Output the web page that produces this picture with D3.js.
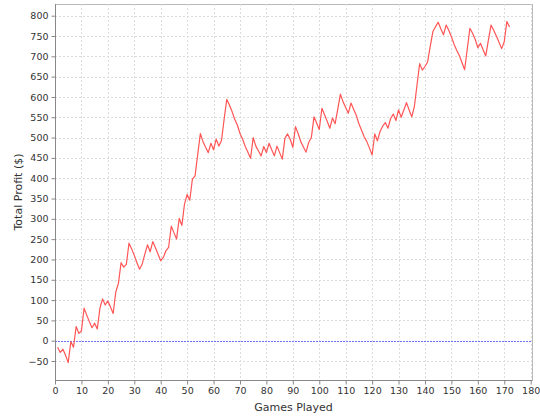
<!DOCTYPE html>
<html>
<head>
<meta charset="utf-8">
<script src="https://cdn.jsdelivr.net/npm/d3@7/dist/d3.min.js"></script>
<style>
  html, body { margin: 0; padding: 0; background: #ffffff; }
  svg { display: block; }
  text { font-family: "DejaVu Sans", sans-serif; fill: #333; }
</style>
</head>
<body>
<svg id="chart" width="540" height="420"></svg>
<script>
// ---- data ----
const profit = [
  -16, -29, -21, -36, -54, -2, -16, 35, 18, 24,
  80, 63, 47, 32, 43, 29, 80, 103, 88, 98,
  83, 67, 120, 141, 192, 181, 188, 240, 226, 210,
  192, 176, 189, 213, 236, 219, 244, 229, 213, 197,
  205, 222, 230, 282, 266, 250, 301, 284, 336, 360,
  346, 398, 406, 458, 510, 490, 476, 463, 486, 470,
  496, 479, 493, 545, 594, 580, 564, 545, 531, 510,
  496, 478, 464, 449, 500, 479, 467, 455, 478, 463,
  486, 470, 455, 479, 463, 447, 498, 509, 496, 476,
  527, 510, 490, 477, 464, 488, 500, 551, 536, 520,
  572, 556, 540, 523, 548, 534, 570, 607, 588, 574,
  560, 585, 570, 555, 534, 518, 502, 490, 474, 457,
  509, 492, 515, 528, 537, 523, 547, 558, 542, 568,
  550, 568, 586, 568, 551, 577, 630, 682, 666, 675,
  686, 725, 761, 773, 784, 768, 753, 777, 764, 748,
  730, 715, 702, 685, 667, 718, 769, 757, 742, 721,
  732, 716, 701, 740, 777, 764, 750, 735, 719, 736,
  786, 772
];
const games = profit.map((_, i) => i + 1);
const xTicks = d3.range(0, 181, 10);
const yTicks = d3.range(-50, 801, 50);
const xDomain = [0, 180.5];
const yDomain = [-96.7, 828.8];
const xLabel = "Games Played";
const yLabel = "Total Profit ($)";

// ---- layout ----
const plot = { left: 55, right: 532, top: 4, bottom: 380 };
const svg = d3.select("#chart");

const x = d3.scaleLinear().domain(xDomain).range([plot.left, plot.right]);
const y = d3.scaleLinear().domain(yDomain).range([plot.bottom, plot.top]);

// plot background & border
svg.append("rect")
  .attr("x", plot.left + 0.5).attr("y", plot.top + 0.5)
  .attr("width", plot.right - plot.left).attr("height", plot.bottom - plot.top)
  .attr("fill", "#ffffff").attr("stroke", "#b8b8b8").attr("stroke-width", 1);

// gridlines
const grid = svg.append("g");
grid.selectAll("line.v").data(xTicks.filter(d => d > 0)).join("line")
  .attr("x1", d => Math.round(x(d)) + 0.5).attr("x2", d => Math.round(x(d)) + 0.5)
  .attr("y1", plot.top).attr("y2", plot.bottom)
  .attr("stroke", "#dcdcdc").attr("stroke-width", 1).attr("stroke-dasharray", "2,2");
grid.selectAll("line.h").data(yTicks.filter(d => d !== 0)).join("line")
  .attr("y1", d => Math.round(y(d)) + 0.5).attr("y2", d => Math.round(y(d)) + 0.5)
  .attr("x1", plot.left).attr("x2", plot.right)
  .attr("stroke", "#dcdcdc").attr("stroke-width", 1).attr("stroke-dasharray", "2,2");

// zero marker
svg.append("line")
  .attr("x1", plot.left).attr("x2", plot.right)
  .attr("y1", Math.round(y(0)) + 0.5).attr("y2", Math.round(y(0)) + 0.5)
  .style("stroke", "#7070ff").style("stroke-width", "1px").style("stroke-dasharray", "2,1");

// series line
const line = d3.line().x((d, i) => x(games[i])).y(d => y(d));
svg.append("path")
  .datum(profit)
  .attr("d", line)
  .attr("fill", "none")
  .attr("stroke", "#ff5555")
  .attr("stroke-width", 1.2)
  .attr("stroke-linejoin", "round");

// axes
const xAxis = d3.axisBottom(x).tickValues(xTicks).tickSizeInner(4).tickSizeOuter(0).tickPadding(3);
const yAxis = d3.axisLeft(y).tickValues(yTicks).tickSizeInner(4).tickSizeOuter(0).tickPadding(3);

const gx = svg.append("g").attr("transform", `translate(0,${plot.bottom + 0.5})`).call(xAxis);
const gy = svg.append("g").attr("transform", `translate(${plot.left + 0.5},0)`).call(yAxis);

[gx, gy].forEach(g => {
  g.select(".domain").attr("stroke", "#888888");
  g.selectAll(".tick line").attr("stroke", "#888888");
  g.selectAll(".tick text")
    .attr("fill", "#222")
    .style("font-family", "'DejaVu Sans', sans-serif")
    .style("font-size", "9.5px");
});
gx.select(".domain").attr("d", `M${plot.left},0H${plot.right + 0.5}`);
gy.select(".domain").attr("d", `M0,${plot.top}V${plot.bottom + 0.5}`);

// axis labels
svg.append("text")
  .attr("x", (plot.left + plot.right) / 2)
  .attr("y", 411)
  .attr("text-anchor", "middle")
  .attr("fill", "#222")
  .style("font-size", "11px")
  .text(xLabel);

svg.append("text")
  .attr("transform", `translate(22,${(plot.top + plot.bottom) / 2}) rotate(-90)`)
  .attr("text-anchor", "middle")
  .attr("fill", "#222")
  .style("font-size", "11px")
  .text(yLabel);
</script>
</body>
</html>
